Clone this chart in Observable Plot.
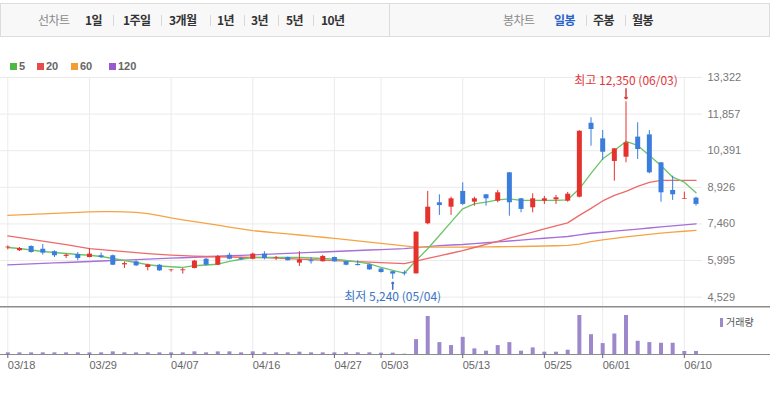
<!DOCTYPE html>
<html><head><meta charset="utf-8">
<script src="https://cdn.jsdelivr.net/npm/d3@7"></script>
<script src="https://cdn.jsdelivr.net/npm/@observablehq/plot@0.6"></script>
<style>
body{margin:0;width:770px;height:396px;position:relative;background:#fff;font-family:"Liberation Sans",Arial,"Noto Sans CJK KR",sans-serif;overflow:hidden}
#tabs{position:absolute;left:0;top:3px;width:768px;height:32px;border:1px solid #dcdcdc;background:#f8f8f8}
.t{position:absolute;top:0;line-height:32px;font-size:12px;font-weight:bold;color:#333;font-family:"Noto Sans CJK KR",sans-serif;letter-spacing:-0.6px;white-space:nowrap}
.g{color:#8a8a8a;font-weight:normal}
.b{color:#2a62c9}
.sep{position:absolute;top:11px;width:1px;height:11px;background:#d8d8d8}
.div{position:absolute;top:0;width:1px;height:32px;background:#dcdcdc}
.lg{position:absolute;top:58px;font-size:11px;font-weight:bold;color:#666;line-height:16px;white-space:nowrap}
.sq{display:inline-block;width:7px;height:7px;margin-right:2px;vertical-align:0px}
.abs{position:absolute}
</style></head>
<body>
<div id="tabs">
  <span class="t g" style="left:37px">선차트</span>
  <span class="t" style="left:84px">1일</span><span class="sep" style="left:112px"></span>
  <span class="t" style="left:122px">1주일</span><span class="sep" style="left:160px"></span>
  <span class="t" style="left:168px">3개월</span><span class="sep" style="left:209px"></span>
  <span class="t" style="left:216px">1년</span><span class="sep" style="left:243px"></span>
  <span class="t" style="left:250px">3년</span><span class="sep" style="left:277px"></span>
  <span class="t" style="left:285px">5년</span><span class="sep" style="left:312px"></span>
  <span class="t" style="left:320px">10년</span>
  <span class="div" style="left:388px"></span>
  <span class="t g" style="left:502px">봉차트</span>
  <span class="t b" style="left:553px">일봉</span><span class="sep" style="left:585px"></span>
  <span class="t" style="left:592px">주봉</span><span class="sep" style="left:624px"></span>
  <span class="t" style="left:631px">월봉</span>
</div>
<div id="legend"></div>
<div id="price" class="abs" style="left:0;top:70px"></div>
<div id="vol" class="abs" style="left:0;top:307px"></div>
<div class="abs" style="left:0;top:306px;width:770px;height:1px;background:#8c8c8c"></div>
<div class="abs" style="left:0;top:307px;width:770px;height:1px;background:#c4c4c4"></div>
<div class="abs" style="left:720px;top:314px;font-size:10px;color:#555;font-family:'Noto Sans CJK KR',sans-serif;white-space:nowrap"><span style="display:inline-block;width:3px;height:9px;background:#9d88cc;margin-right:3px;vertical-align:-1px"></span>거래량</div>
<script>
const dates = ["03/18","03/19","03/22","03/23","03/24","03/25","03/26","03/29","03/30","03/31",
"04/01","04/02","04/05","04/06","04/07","04/08","04/09","04/12","04/13","04/14",
"04/15","04/16","04/19","04/20","04/21","04/22","04/23","04/26","04/27","04/28",
"04/29","04/30","05/03","05/04","05/06","05/07","05/10","05/11","05/12","05/13",
"05/14","05/17","05/18","05/20","05/21","05/24","05/25","05/26","05/27","05/28",
"05/31","06/01","06/02","06/03","06/04","06/07","06/08","06/09","06/10","06/11"];
const open = [6500,6385,6555,6445,6345,6160,6235,6115,6185,6185,
5820,5940,5715,5805,5590,5585,5675,6045,5805,6205,
6070,6045,6250,6080,6115,5890,5985,5945,6115,5945,
5835,5820,5650,5545,5500,5460,7465,8305,8130,8760,
8330,8625,8370,9505,8465,8105,8370,8425,8370,8530,
11490,10865,9960,10130,10935,11025,9905,8800,8440,8490];
const high = [6580,6515,6585,6635,6385,6255,6315,6475,6290,6210,
5940,5980,5850,5830,5625,5675,6000,6075,6195,6285,
6120,6290,6345,6155,6130,6345,6115,6200,6130,5960,
5985,5850,5675,5555,5580,7140,8760,8625,8530,9105,
8530,8640,8800,9520,8480,8665,8560,8600,8720,11190,
11710,11200,10480,12350,11510,11200,9920,9370,8730,8530];
const low = [6420,6355,6290,6210,6115,6075,5985,6100,6075,5790,
5675,5760,5580,5560,5530,5450,5660,5770,5790,6020,
5990,6020,6020,5995,5975,5755,5850,5930,5930,5780,
5780,5600,5490,5240,5380,5450,7425,7800,7800,8195,
8170,8170,8305,7770,7905,7905,8240,8240,8330,8500,
10570,10000,9170,9905,10040,9465,8330,8400,8440,8170];
const close = [6530,6475,6315,6290,6185,6205,6075,6250,6115,5805,
5870,5780,5820,5580,5615,5620,5970,5805,6155,6045,
6030,6250,6075,6105,5985,6020,5945,6155,5945,5805,
5790,5620,5515,5450,5460,7130,8130,8195,8465,8240,
8465,8465,8705,8305,8040,8465,8465,8505,8650,11170,
11240,10330,10465,10705,10440,9505,8705,8625,8465,8240];
const ma5 = [6515,6475,6415,6355,6315,6275,6235,6205,6155,6075,
5995,5915,5825,5775,5745,5715,5785,5815,5845,5955,
6045,6115,6115,6115,6115,6115,6095,6075,6045,5995,
5940,5855,5715,5595,5485,5995,6465,6995,7530,8065,
8265,8330,8425,8465,8400,8400,8400,8400,8425,8865,
9480,10065,10400,10760,10600,10200,9800,9330,9130,8705];
const ma20 = [6980,6910,6840,6770,6700,6630,6550,6470,6430,6390,
6350,6310,6270,6240,6210,6190,6170,6155,6145,6135,
6125,6120,6110,6090,6070,6050,6030,6010,5990,5970,
5950,5930,5910,5890,5870,5970,6075,6180,6285,6390,
6515,6640,6765,6890,7010,7130,7260,7380,7500,7800,
8080,8380,8600,8760,8960,9120,9200,9200,9200,9200];
const ma60 = [7800,7820,7840,7860,7880,7900,7920,7940,7950,7950,
7940,7920,7870,7790,7700,7625,7550,7480,7410,7335,
7260,7190,7145,7100,7060,7015,6970,6925,6880,6830,
6780,6730,6680,6630,6580,6530,6530,6530,6530,6530,
6535,6540,6545,6550,6555,6565,6575,6585,6600,6650,
6750,6820,6880,6940,6990,7040,7090,7130,7165,7200];
const ma120 = [5820,5840,5860,5880,5900,5915,5935,5955,5975,5995,
6010,6030,6050,6070,6090,6105,6125,6145,6165,6185,
6200,6220,6240,6260,6280,6300,6320,6335,6355,6375,
6395,6415,6430,6450,6470,6510,6550,6590,6615,6635,
6670,6705,6740,6775,6810,6850,6885,6920,6955,7020,
7085,7125,7170,7210,7250,7295,7340,7380,7420,7465];
const volume = [5,5,5,5,5,5,5,5,5,8,
5,5,5,5,5,5,8,5,8,8,
5,8,5,5,5,7,5,5,5,5,
5,5,4,4,1,45,115,36,27,52,
17,10,27,36,10,20,7,7,13,118,
60,33,62,118,40,36,34,34,9,9];
const priceTicks = [4529,5995,7460,8926,10391,11857,13322];
const tickLabels = ["03/18","03/29","04/07","04/16","04/27","05/03","05/13","05/25","06/01","06/10"];
const maNames = ["5","20","60","120"];
const maLineColors = ["#6cc46a","#ee6a6a","#f5a445","#a66fd9"];
const maKeyColors = ["#4db848","#e74c4c","#f39c34","#9b59d0"];

const RED = "#e5322d", BLUE = "#3b7ddd";
const tickIdx = tickLabels.map(l => dates.indexOf(l));
const candles = dates.map((d, i) => ({i, date: d, open: open[i], high: high[i], low: low[i], close: close[i],
  color: close[i] >= open[i] ? RED : BLUE}));
const maSeries = [ma5, ma20, ma60, ma120];
const vols = volume.map((v, i) => ({i, v}));
const hiIdx = d3.maxIndex(high), loIdx = d3.minIndex(low);
const fmt = d3.format(",");
const hi = [{i: hiIdx, v: high[hiIdx], label: `최고 ${fmt(high[hiIdx])} (${dates[hiIdx]})`}];
const lo = [{i: loIdx, v: low[loIdx], label: `최저 ${fmt(low[loIdx])} (${dates[loIdx]})`}];

// legend
const lg = document.getElementById("legend");
const lgX = [10, 37, 71, 109];
maNames.forEach((n, k) => {
  const s = document.createElement("span");
  s.className = "lg"; s.style.left = lgX[k] + "px";
  s.innerHTML = `<span class="sq" style="background:${maKeyColors[k]}"></span>${n}`;
  lg.appendChild(s);
});

const xOpt = {type: "linear", domain: [0, dates.length - 1], range: [7.3, 695.5], label: null};

const price = Plot.plot({
  width: 770, height: 238, marginTop: 7, marginBottom: 1, marginLeft: 0, marginRight: 68,
  style: {fontFamily: "Liberation Sans, Arial, sans-serif", background: "transparent"},
  x: {...xOpt, axis: null},
  y: {domain: [4529, 13322], range: [226.6, 7], label: null},
  marks: [
    Plot.ruleY(priceTicks, {stroke: "#ebebeb"}),
    Plot.ruleX(tickIdx, {stroke: "#ebebeb"}),
    Plot.axisY({anchor: "right", ticks: priceTicks, tickFormat: fmt, tickSize: 0, tickPadding: 5, fontSize: 11, color: "#777", label: null}),
    ...[3, 2, 1, 0].map(k => Plot.line(maSeries[k], {x: (d, i) => i, y: d => d, stroke: maLineColors[k], strokeWidth: 1.3})),
    Plot.ruleX(candles, {x: "i", y1: "low", y2: "high", stroke: "color", strokeWidth: 1}),
    Plot.ruleX(candles, {x: "i", y1: "open", y2: "close", stroke: "color", strokeWidth: 5}),
    Plot.vector(hi, {x: "i", y: "v", length: 10, rotate: 180, anchor: "end", shape: "arrow", r: 2, stroke: "#e0383c", dy: -3}),
    Plot.text(hi, {x: "i", y: "v", text: "label", dy: -21, fill: "#e0383c", fontSize: 12, fontFamily: "Noto Sans CJK KR"}),
    Plot.vector(lo, {x: "i", y: "v", length: 7, rotate: 0, anchor: "end", shape: "arrow", r: 2, stroke: "#3a74c4", dy: 3}),
    Plot.text(lo, {x: "i", y: "v", text: "label", dy: 18, fill: "#3a74c4", fontSize: 12, fontFamily: "Noto Sans CJK KR"})
  ]
});
document.getElementById("price").appendChild(price);

const vol = Plot.plot({
  width: 770, height: 89, marginTop: 0, marginBottom: 42, marginLeft: 0, marginRight: 0,
  style: {fontFamily: "Liberation Sans, Arial, sans-serif", background: "transparent"},
  x: xOpt,
  y: {domain: [0, 118], range: [47, 8], axis: null},
  marks: [
    Plot.ruleX(tickIdx, {stroke: "#ebebeb"}),
    Plot.ruleX(vols, {x: "i", y1: 0, y2: "v", stroke: "#9d88cc", strokeWidth: 4}),
    Plot.ruleY([0], {stroke: "#8c8c8c"}),
    Plot.axisX({ticks: tickIdx, tickFormat: i => dates[i], tickSize: 4, tickPadding: 3, textAnchor: "start", fontSize: 11, color: "#666", label: null})
  ]
});
document.getElementById("vol").appendChild(vol);
</script>
</body></html>
